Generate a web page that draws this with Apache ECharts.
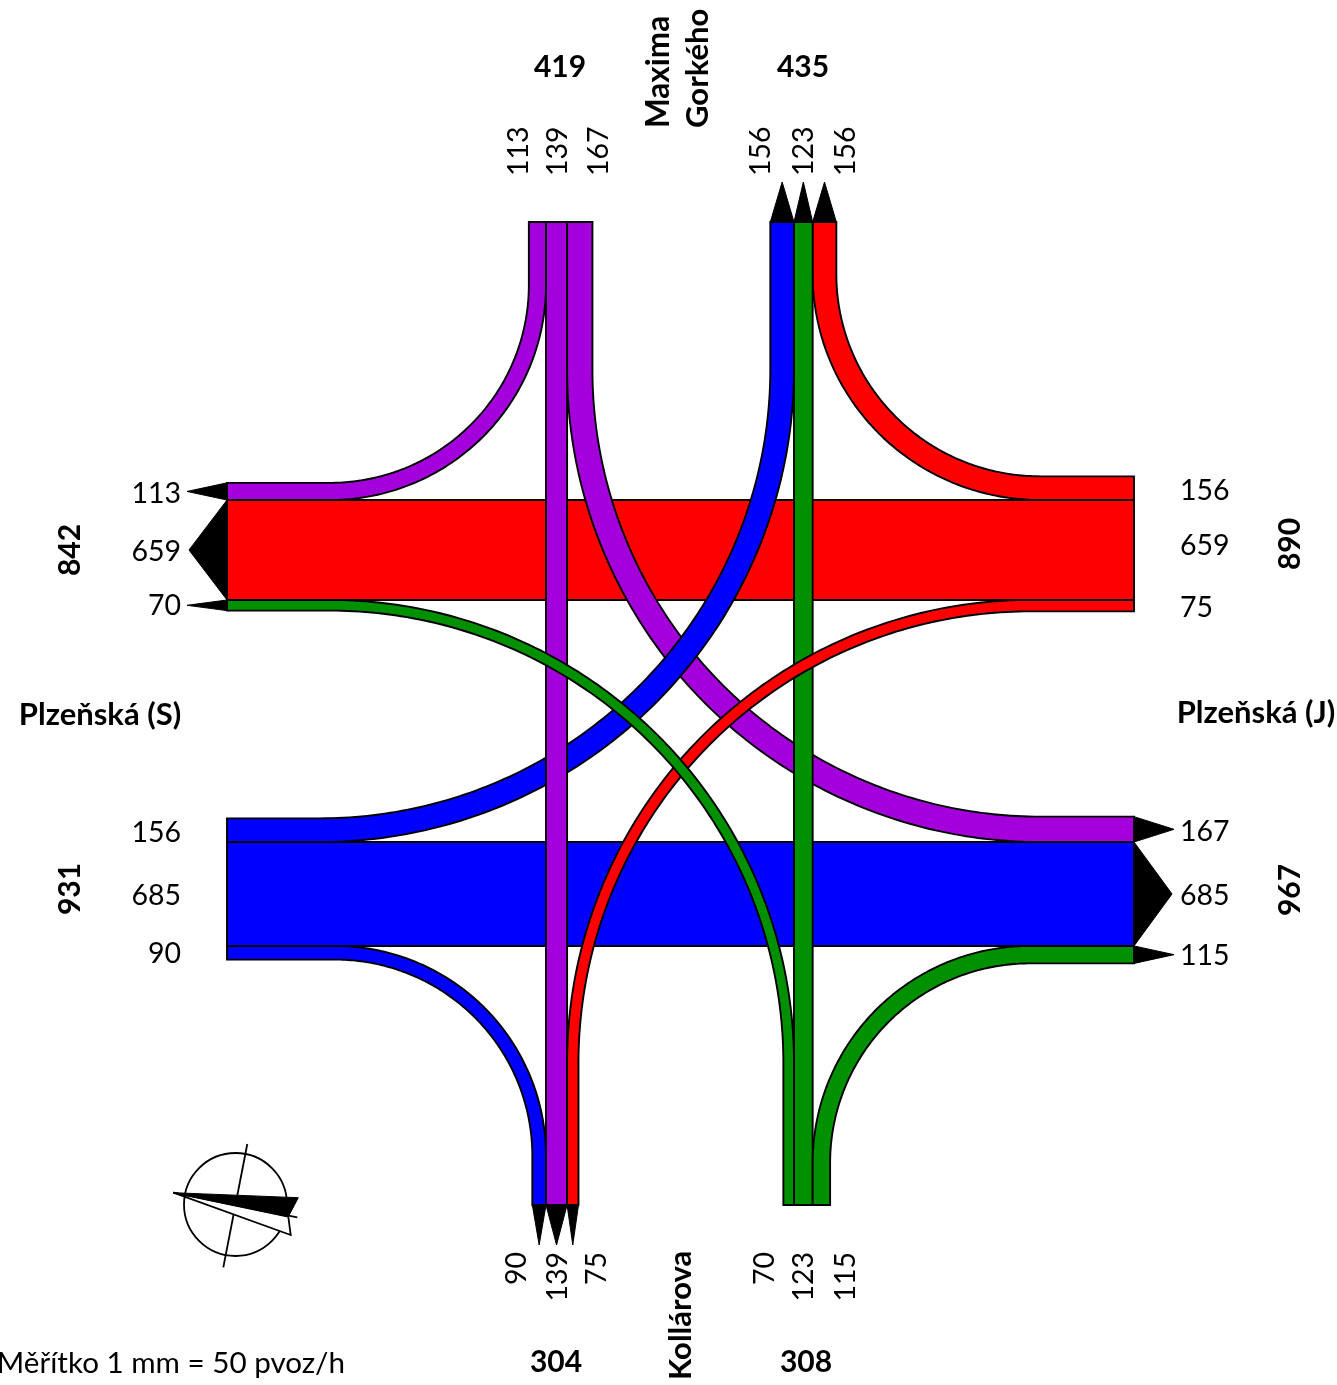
<!DOCTYPE html>
<html>
<head>
<meta charset="utf-8">
<title>Kartogram Plzeňská</title>
<script src="https://cdn.jsdelivr.net/npm/echarts@6/dist/echarts.min.js"></script>
<style>
  html, body { margin: 0; padding: 0; background: #fff; }
  #chart { width: 1337px; height: 1385px; }
</style>
</head>
<body>
<div id="chart"></div>
<script>
// intensities (pvoz/h)
const fromNorth = [113, 139, 167]; // to W, S, E
const fromSouth = [70, 123, 115];  // to W, N, E
const fromWest = [156, 685, 90];   // to N, E, S
const fromEast = [156, 659, 75];   // to N, W, S
const northTotals = [419, 435];
const southTotals = [304, 308];
const westTotals = [842, 931];
const eastTotals = [890, 967];

const PURPLE = '#a400dc', GREEN = '#009000', RED = '#ff0000', BLUE = '#0000ff';
const FONT = 'Lato';
const SCALE = 100 / 659; // px per pvoz/h
const w = v => v * SCALE;

// arm ends and the edges the lanes are stacked against
const TOP = 222, BOTTOM = 1205, LEFT = 227, RIGHT = 1134;
const X1 = 546, X2 = 794, Y1 = 500, Y2 = 842;
const ARROW = 40;

function straightH(value, color, y, to) {
  return { kind: 'h', value, color, y, to };
}
function straightV(value, color, x, to) {
  return { kind: 'v', value, color, x, to };
}
// xa/ya = lane edge on the arm, xs/ys = side the band grows to, c = arc centre
function turn(value, color, xa, xs, vEnd, ya, ys, hEnd, cx, cy, arrowOn) {
  return { kind: 't', value, color, xa, xs, vEnd, ya, ys, hEnd, cx, cy, arrowOn };
}

// order is the drawing order, it decides who crosses over who
const flows = [
  straightH(fromEast[1], RED, Y1, 'W'),
  straightH(fromWest[1], BLUE, Y2, 'E'),
  turn(fromNorth[0], PURPLE, X1, -1, TOP, Y1, -1, LEFT, 330, 285, 'h'),
  turn(fromNorth[2], PURPLE, X1 + w(fromNorth[1]), 1, TOP, Y2, -1, RIGHT, 1040, 370, 'h'),
  turn(fromEast[0], RED, X2 + w(fromSouth[1]), 1, TOP, Y1, -1, RIGHT, 1040, 274, 'v'),
  turn(fromWest[0], BLUE, X2, -1, TOP, Y2, -1, LEFT, 320, 369, 'v'),
  turn(fromWest[2], BLUE, X1, -1, BOTTOM, Y2 + w(fromWest[1]), 1, LEFT, 335, 1156, 'v'),
  straightV(fromNorth[1], PURPLE, X1, 'S'),
  straightV(fromSouth[1], GREEN, X2, 'N'),
  turn(fromEast[2], RED, X1 + w(fromNorth[1]), 1, BOTTOM, Y1 + w(fromEast[1]), 1, RIGHT, 1030, 1063, 'v'),
  turn(fromSouth[0], GREEN, X2, -1, BOTTOM, Y1 + w(fromEast[1]), 1, LEFT, 330, 1063, 'h'),
  turn(fromSouth[2], GREEN, X2 + w(fromSouth[1]), 1, BOTTOM, Y2 + w(fromWest[1]), 1, RIGHT, 1030, 1163, 'h')
];

function bandPoints(f) {
  const bw = w(f.value);
  if (f.kind === 'h') return [[LEFT, f.y], [RIGHT, f.y], [RIGHT, f.y + bw], [LEFT, f.y + bw]];
  if (f.kind === 'v') return [[f.x, TOP], [f.x + bw, TOP], [f.x + bw, BOTTOM], [f.x, BOTTOM]];
  const xb = f.xa + f.xs * bw, yb = f.ya + f.ys * bw;
  const nearX = Math.abs(f.xa - f.cx) < Math.abs(xb - f.cx) ? f.xa : xb;
  const farX = nearX === f.xa ? xb : f.xa;
  const nearY = Math.abs(f.ya - f.cy) < Math.abs(yb - f.cy) ? f.ya : yb;
  const farY = nearY === f.ya ? yb : f.ya;
  const arc = (x, y) => {
    const pts = [];
    for (let i = 0; i <= 120; i++) {
      const t = i / 120 * Math.PI / 2;
      pts.push([f.cx + (x - f.cx) * Math.cos(t), f.cy + (y - f.cy) * Math.sin(t)]);
    }
    return pts;
  };
  return [[nearX, f.vEnd]].concat(
    arc(nearX, nearY),
    [[f.hEnd, nearY], [f.hEnd, farY]],
    arc(farX, farY).reverse(),
    [[farX, f.vEnd]]
  );
}

function arrowPoints(f) {
  const bw = w(f.value);
  if (f.kind === 'h') {
    const d = f.to === 'W' ? -1 : 1, x = d < 0 ? LEFT : RIGHT;
    return [[x, f.y], [x + d * (ARROW - 2), f.y + bw / 2], [x, f.y + bw]];
  }
  if (f.kind === 'v') {
    const d = f.to === 'N' ? -1 : 1, y = d < 0 ? TOP : BOTTOM;
    return [[f.x, y], [f.x + bw / 2, y + d * ARROW], [f.x + bw, y]];
  }
  if (f.arrowOn === 'h') {
    const d = f.hEnd === LEFT ? -1 : 1, yb = f.ya + f.ys * bw;
    return [[f.hEnd, f.ya], [f.hEnd + d * ARROW, (f.ya + yb) / 2], [f.hEnd, yb]];
  }
  const d = f.vEnd === TOP ? -1 : 1, xb = f.xa + f.xs * bw;
  return [[f.xa, f.vEnd], [(f.xa + xb) / 2, f.vEnd + d * ARROW], [xb, f.vEnd]];
}

function renderFlow(params, api) {
  const f = flows[params.dataIndex];
  const toPx = p => api.coord(p);
  return {
    type: 'group',
    children: [
      {
        type: 'polygon',
        shape: { points: arrowPoints(f).map(toPx) },
        style: { fill: '#000', stroke: '#000', lineWidth: 1 }
      },
      {
        type: 'polygon',
        shape: { points: bandPoints(f).map(toPx) },
        style: { fill: f.color, stroke: '#000', lineWidth: 1.9 }
      }
    ]
  };
}

function txt(text, x, y, opts) {
  const o = opts || {};
  return {
    type: 'text',
    x: o.up ? x + 0.5 : x,
    y: o.up ? y : y + 1,
    rotation: o.up ? Math.PI / 2 : 0,
    silent: true,
    style: {
      text: String(text),
      fontFamily: FONT,
      fontSize: o.size || 28.5,
      fontWeight: o.bold ? 'bold' : 'normal',
      fill: '#000',
      align: o.align || 'center',
      verticalAlign: 'middle'
    }
  };
}

const upStart = { up: true, align: 'left' };
const upEnd = { up: true, align: 'right' };
const boldUp = { up: true, bold: true, size: 30 };
const totalH = { bold: true, size: 30 };
const labels = [
  // north arm
  txt(fromNorth[0], 518, 176, upStart), txt(fromNorth[1], 557, 176, upStart), txt(fromNorth[2], 598, 176, upStart),
  txt(fromWest[0], 760, 176, upStart), txt(fromSouth[1], 803, 176, upStart), txt(fromEast[0], 845, 176, upStart),
  // south arm
  txt(fromWest[2], 516, 1252, upEnd), txt(fromNorth[1], 557, 1252, upEnd), txt(fromEast[2], 596, 1252, upEnd),
  txt(fromSouth[0], 764, 1252, upEnd), txt(fromSouth[1], 803, 1252, upEnd), txt(fromSouth[2], 845, 1252, upEnd),
  // west arm
  txt(fromNorth[0], 181, 493, { align: 'right' }), txt(fromEast[1], 181, 551, { align: 'right' }), txt(fromSouth[0], 181, 605, { align: 'right' }),
  txt(fromWest[0], 181, 832, { align: 'right' }), txt(fromWest[1], 181, 895, { align: 'right' }), txt(fromWest[2], 181, 953, { align: 'right' }),
  // east arm
  txt(fromEast[0], 1180, 490, { align: 'left' }), txt(fromEast[1], 1180, 545, { align: 'left' }), txt(fromEast[2], 1180, 607, { align: 'left' }),
  txt(fromNorth[2], 1180, 831, { align: 'left' }), txt(fromWest[1], 1180, 895, { align: 'left' }), txt(fromSouth[2], 1180, 955, { align: 'left' }),
  // totals
  txt(northTotals[0], 560, 66, totalH), txt(northTotals[1], 803, 66, totalH),
  txt(southTotals[0], 556, 1361, totalH), txt(southTotals[1], 806, 1361, totalH),
  txt(westTotals[0], 70, 550, boldUp), txt(westTotals[1], 70, 889, boldUp),
  txt(eastTotals[0], 1290, 544, boldUp), txt(eastTotals[1], 1290, 890, boldUp),
  // street names
  txt('Maxima', 658, 128, { up: true, bold: true, align: 'left', size: 31.5 }),
  txt('Gorkého', 697, 128, { up: true, bold: true, align: 'left', size: 31 }),
  txt('Kollárova', 680, 1380, { up: true, bold: true, align: 'left', size: 31 }),
  txt('Plzeňská (S)', 100, 714, { bold: true, size: 31 }),
  txt('Plzeňská (J)', 1256, 712, { bold: true, size: 31 }),
  txt('Měřítko 1 mm = 50 pvoz/h', 345, 1362, { align: 'right', size: 29.6 })
];

const compass = [
  { type: 'circle', shape: { cx: 235.5, cy: 1204.5, r: 51.5 }, style: { fill: '#fff', stroke: '#000', lineWidth: 1.8 } },
  { type: 'line', shape: { x1: 247.3, y1: 1144, x2: 223.3, y2: 1267.3 }, style: { stroke: '#000', lineWidth: 1.8 } },
  { type: 'line', shape: { x1: 173.3, y1: 1192.7, x2: 297.3, y2: 1217.3 }, style: { stroke: '#000', lineWidth: 1.8 } },
  { type: 'polygon', shape: { points: [[173.3, 1192.7], [288.3, 1216.7], [290.7, 1235]] }, style: { fill: '#fff', stroke: '#000', lineWidth: 1.8 } },
  { type: 'polygon', shape: { points: [[173.3, 1192.7], [298.3, 1197.7], [288.3, 1216.7]] }, style: { fill: '#000', stroke: '#000', lineWidth: 1 } }
];

const myChart = echarts.init(document.getElementById('chart'), null, { renderer: 'canvas' });
myChart.setOption({
  animation: false,
  backgroundColor: '#fff',
  grid: { left: 0, right: 0, top: 0, bottom: 0 },
  xAxis: { type: 'value', min: 0, max: 1337, show: false },
  yAxis: { type: 'value', min: 0, max: 1385, inverse: true, show: false },
  series: [
    {
      type: 'custom',
      coordinateSystem: 'cartesian2d',
      clip: false,
      silent: true,
      renderItem: renderFlow,
      data: flows.map(f => [f.value, f.value])
    }
  ],
  graphic: { elements: compass.concat(labels) }
});
</script>
</body>
</html>
